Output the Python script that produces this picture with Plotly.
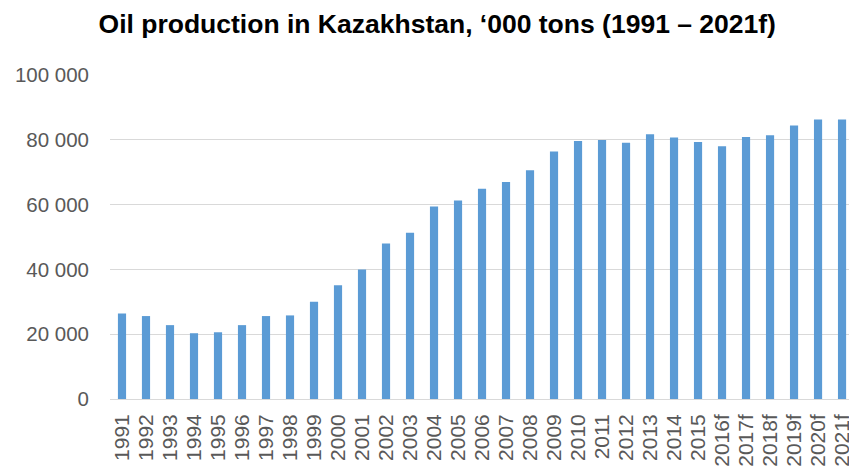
import plotly.graph_objects as go

years = ["1991", "1992", "1993", "1994", "1995", "1996", "1997", "1998", "1999", "2000",
         "2001", "2002", "2003", "2004", "2005", "2006", "2007", "2008", "2009", "2010",
         "2011", "2012", "2013", "2014", "2015", "2016f", "2017f", "2018f", "2019f", "2020f", "2021f"]
production = [26400, 25600, 22800, 20300, 20600, 22800, 25600, 25800, 30000, 35100,
              40000, 48000, 51300, 59400, 61300, 64900, 67000, 70600, 76400, 79600,
              79900, 79100, 81700, 80700, 79300, 78000, 80900, 81400, 84400, 86300, 86300]
y_ticks = [0, 20000, 40000, 60000, 80000, 100000]

fig = go.Figure(go.Bar(x=years, y=production, marker=dict(color="#5B9BD5", line=dict(width=0))))

fig.update_layout(
    width=849, height=471,
    margin=dict(l=110, r=0, t=75, b=72),
    paper_bgcolor="white", plot_bgcolor="white",
    separators=". ",
    bargap=0.66,
    showlegend=False,
    font=dict(family="Liberation Sans, Arial, sans-serif", color="#595959", size=21),
    title=dict(text="<b>Oil production in Kazakhstan, ‘000 tons (1991 – 2021f)</b>",
               x=0.515, xanchor="center", y=0.949, yanchor="middle",
               font=dict(size=26.5, color="black", family="Liberation Sans, Arial, sans-serif")),
    xaxis=dict(tickangle=-90, showgrid=False, showline=False, ticks="",
               automargin=False, range=[-0.5, 30.29],
               tickmode="array", tickvals=years, ticktext=years,
               ticklabelstandoff=10,
               tickfont=dict(size=21, color="#595959")),
    yaxis=dict(range=[0, 100000], tickvals=y_ticks, tickformat=",d",
               showgrid=True, gridcolor="#D9D9D9", gridwidth=1,
               zeroline=True, zerolinecolor="#D9D9D9", zerolinewidth=1,
               showline=False, ticks="", ticklen=0, automargin=False,
               ticklabelstandoff=20,
               tickfont=dict(size=20.5, color="#595959")),
)

fig.write_html("out.html",
               config={"displayModeBar": False},
               post_script="document.body.style.margin='0';document.body.style.overflow='hidden';")
